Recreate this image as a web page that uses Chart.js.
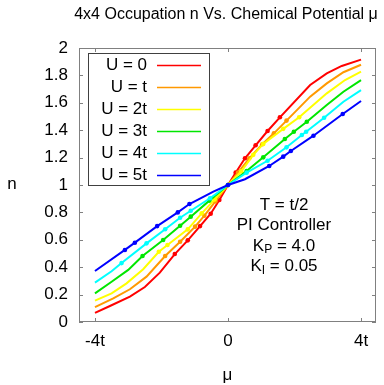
<!DOCTYPE html>
<html>
<head>
<meta charset="utf-8">
<script src="https://cdn.jsdelivr.net/npm/chart.js@4.4.0/dist/chart.umd.min.js"></script>
<style>
  html, body { margin: 0; padding: 0; background: #fff; }
</style>
</head>
<body>
<canvas id="occChart" width="384" height="385"></canvas>
<script>
// --- Серии: μ (в единицах t), заполнение n, флаг точки ---
const seriesLabels = ['U = 0', 'U = t', 'U = 2t', 'U = 3t', 'U = 4t', 'U = 5t'];

const muU0 = [-4, -3.55, -2.95, -2.5, -2.05, -1.6, -1.21, -0.84, -0.52, -0.26, 0, 0.23, 0.51, 0.83, 1.19, 1.56, 2.47, 2.97, 3.42, 4];
const nU0 = [0.066, 0.117, 0.185, 0.255, 0.36, 0.496, 0.596, 0.70, 0.79, 0.89, 1.0, 1.09, 1.195, 1.29, 1.394, 1.494, 1.73, 1.815, 1.869, 1.915];
const markU0 = [0, 0, 0, 0, 0, 1, 1, 1, 1, 1, 1, 1, 1, 1, 1, 1, 0, 0, 0, 0];

const muU1 = [-4, -3.45, -2.95, -2.45, -1.89, -1.44, -0.99, -0.71, -0.38, 0, 0.3, 0.64, 1.03, 1.38, 1.76, 2.47, 2.97, 3.47, 4];
const nU1 = [0.109, 0.173, 0.239, 0.331, 0.482, 0.586, 0.696, 0.776, 0.88, 1.0, 1.09, 1.195, 1.297, 1.377, 1.47, 1.645, 1.742, 1.823, 1.878];
const markU1 = [0, 0, 0, 0, 1, 1, 1, 1, 1, 1, 1, 1, 1, 1, 1, 0, 0, 0, 0];

const muU2 = [-4, -3.5, -3.05, -2.55, -2.08, -1.82, -1.21, -0.79, -0.4, 0, 0.4, 0.76, 1.06, 1.66, 2.14, 2.97, 3.52, 4];
const nU2 = [0.156, 0.209, 0.282, 0.385, 0.513, 0.562, 0.676, 0.793, 0.895, 1.0, 1.1, 1.22, 1.30, 1.41, 1.495, 1.669, 1.766, 1.827];
const markU2 = [0, 0, 0, 0, 1, 1, 1, 1, 1, 1, 1, 1, 1, 1, 1, 0, 0, 0];

const muU3 = [-4, -3.5, -3, -2.57, -1.95, -1.44, -1.12, -0.56, 0, 0.56, 1.06, 1.71, 1.98, 2.37, 2.97, 3.47, 4];
const nU3 = [0.209, 0.294, 0.38, 0.482, 0.599, 0.703, 0.769, 0.886, 1.0, 1.102, 1.202, 1.336, 1.389, 1.462, 1.584, 1.681, 1.766];
const markU3 = [0, 0, 0, 1, 1, 1, 1, 1, 1, 1, 1, 1, 1, 1, 0, 0, 0];

const muU4 = [-4, -3.5, -3.2, -2.45, -1.89, -1.44, -1.12, -0.54, 0, 0.56, 1.19, 1.76, 2.22, 2.35, 2.89, 3.47, 4];
const nU4 = [0.287, 0.37, 0.43, 0.574, 0.677, 0.761, 0.812, 0.903, 1.0, 1.09, 1.177, 1.275, 1.365, 1.389, 1.491, 1.608, 1.693];
const markU4 = [0, 0, 1, 1, 1, 1, 1, 1, 1, 1, 1, 1, 1, 1, 1, 0, 0];

const muU5 = [-4, -3.1, -2.8, -2.13, -1.51, -1.16, -0.44, 0, 0.51, 1.24, 1.66, 1.89, 2.57, 3.45, 4];
const nU5 = [0.372, 0.526, 0.579, 0.70, 0.80, 0.861, 0.951, 1.0, 1.042, 1.139, 1.207, 1.248, 1.36, 1.518, 1.613];
const markU5 = [0, 1, 1, 1, 1, 1, 0, 1, 0, 1, 1, 1, 1, 1, 0];

// --- Подписи осей ---
const xTicks = [-4, 0, 4];
const xTickLabels = ['-4t', '0', '4t'];
const yTicks = [0, 0.2, 0.4, 0.6, 0.8, 1, 1.2, 1.4, 1.6, 1.8, 2];
const yTickLabels = ['0', '0.2', '0.4', '0.6', '0.8', '1', '1.2', '1.4', '1.6', '1.8', '2'];

const infoLines = ['T = t/2', 'PI Controller'];

// --- Стиль ---
const colors = ['#ff0000', '#ff9900', '#ffff00', '#00e600', '#00ffff', '#0000ff'];
const FONT = '"Liberation Sans", Arial, sans-serif';

const allMu = [muU0, muU1, muU2, muU3, muU4, muU5];
const allN = [nU0, nU1, nU2, nU3, nU4, nU5];
const allMark = [markU0, markU1, markU2, markU3, markU4, markU5];

const datasets = seriesLabels.map((label, k) => ({
  label: label,
  data: allMu[k].map((m, i) => ({ x: m, y: allN[k][i] })),
  borderColor: colors[k],
  backgroundColor: colors[k],
  borderWidth: 2,
  pointRadius: ctx => allMark[k][ctx.dataIndex] ? 2.3 : 0,
  pointBorderWidth: 0,
  pointBackgroundColor: colors[k],
  tension: 0,
  fill: false,
  order: seriesLabels.length - 1 - k
}));

// --- Рамка, засечки, легенда и надписи ---
const decor = {
  id: 'decor',
  beforeDatasetsDraw(chart) {
    const { ctx, chartArea: a, scales } = chart;
    ctx.save();
    ctx.strokeStyle = '#808080';
    ctx.lineWidth = 1;
    ctx.strokeRect(a.left + 0.5, a.top + 0.5, a.right - a.left - 1, a.bottom - a.top - 1);
    ctx.beginPath();
    const tl = 4;
    yTicks.forEach(v => {
      const y = Math.round(scales.y.getPixelForValue(v)) + 0.5;
      ctx.moveTo(a.left, y); ctx.lineTo(a.left + tl, y);
      ctx.moveTo(a.right, y); ctx.lineTo(a.right - tl, y);
    });
    xTicks.forEach(v => {
      const x = Math.round(scales.x.getPixelForValue(v)) + 0.5;
      ctx.moveTo(x, a.bottom); ctx.lineTo(x, a.bottom - tl);
      ctx.moveTo(x, a.top); ctx.lineTo(x, a.top + tl);
    });
    ctx.stroke();
    ctx.restore();
  },
  afterDatasetsDraw(chart) {
    const { ctx, chartArea: a } = chart;
    ctx.save();
    ctx.fillStyle = '#000';
    ctx.textBaseline = 'middle';

    // заголовок
    ctx.font = '16px ' + FONT;
    ctx.textAlign = 'center';
    ctx.fillText('4x4 Occupation n Vs. Chemical Potential μ', 226, 15);

    // подписи осей
    ctx.font = '17px ' + FONT;
    ctx.fillText('n', 12, 184);
    ctx.fillText('μ', (a.left + a.right) / 2, 375);

    // легенда
    ctx.fillStyle = '#fff';
    ctx.fillRect(88.5, 53.5, 121, 132);
    ctx.strokeStyle = '#404040';
    ctx.lineWidth = 1;
    ctx.strokeRect(88.5, 53.5, 121, 132);
    ctx.textAlign = 'right';
    seriesLabels.forEach((label, k) => {
      const y = 65 + k * 22;
      ctx.fillStyle = '#000';
      ctx.fillText(label, 147, y);
      ctx.strokeStyle = colors[k];
      ctx.lineWidth = 1.5;
      ctx.beginPath();
      ctx.moveTo(157, y + 0.5);
      ctx.lineTo(201, y + 0.5);
      ctx.stroke();
    });

    // параметры расчёта
    const cx = 284;
    ctx.fillStyle = '#000';
    ctx.textAlign = 'center';
    ctx.font = '17px ' + FONT;
    infoLines.forEach((t, i) => ctx.fillText(t, cx, 205 + i * 20.5));
    const subLine = (main, sub, rest, y) => {
      ctx.font = '17px ' + FONT;
      const w1 = ctx.measureText(main).width;
      const w3 = ctx.measureText(rest).width;
      ctx.font = '12px ' + FONT;
      const w2 = ctx.measureText(sub).width;
      let x = cx - (w1 + w2 + w3) / 2;
      ctx.textAlign = 'left';
      ctx.font = '17px ' + FONT;
      ctx.fillText(main, x, y);
      ctx.font = '12px ' + FONT;
      ctx.fillText(sub, x + w1, y + 4);
      ctx.font = '17px ' + FONT;
      ctx.fillText(rest, x + w1 + w2, y);
    };
    subLine('K', 'P', ' = 4.0', 246);
    subLine('K', 'I', ' = 0.05', 266.5);
    ctx.restore();
  }
};

const chart = new Chart(document.getElementById('occChart'), {
  type: 'line',
  data: { datasets: datasets },
  options: {
    responsive: false,
    animation: false,
    devicePixelRatio: 1,
    layout: { padding: { top: 48, right: 8, left: 0, bottom: 0 } },
    scales: {
      x: {
        type: 'linear',
        min: -4.48,
        max: 4.45,
        afterBuildTicks: s => { s.ticks = xTicks.map(v => ({ value: v })); },
        afterFit: s => { s.height = 63; },
        ticks: {
          callback: v => xTickLabels[xTicks.indexOf(v)],
          font: { family: FONT, size: 17 },
          color: '#000',
          padding: 9,
          maxRotation: 0
        },
        grid: { display: false, drawTicks: false },
        border: { display: false }
      },
      y: {
        min: 0,
        max: 2,
        afterBuildTicks: s => { s.ticks = yTicks.map(v => ({ value: v })); },
        afterFit: s => { s.width = 79; },
        ticks: {
          callback: (v, i) => yTickLabels[i],
          font: { family: FONT, size: 17 },
          color: '#000',
          padding: 11
        },
        grid: { display: false, drawTicks: false },
        border: { display: false }
      }
    },
    plugins: {
      legend: { display: false },
      tooltip: { enabled: false }
    }
  },
  plugins: [decor]
});
</script>
</body>
</html>
